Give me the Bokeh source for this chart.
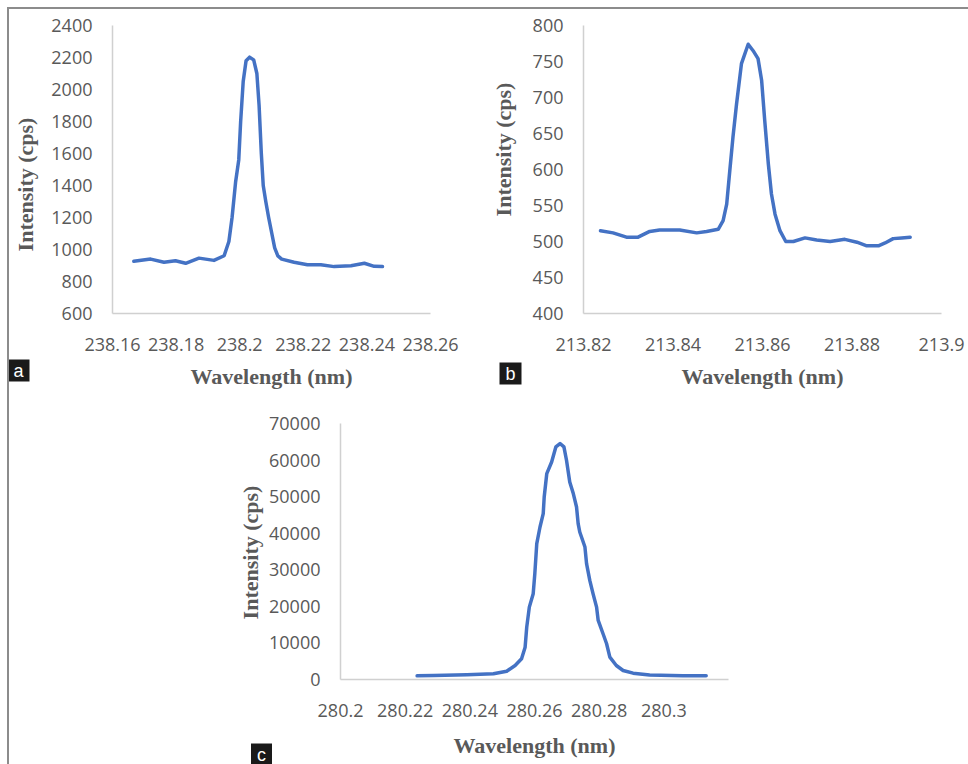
import math
from bokeh.plotting import figure
from bokeh.models import Range1d, FixedTicker, NumeralTickFormatter, Label
from bokeh.layouts import column, row
from bokeh.embed import file_html
from bokeh.resources import INLINE

# ---------------- data ----------------
wl_a = [238.1667, 238.1720, 238.1762, 238.1798, 238.1830, 238.1872, 238.1919, 238.1951,
        238.1966, 238.1976, 238.1987, 238.1997, 238.2003, 238.2011, 238.2020, 238.2031,
        238.2044, 238.2054, 238.2061, 238.2068, 238.2074, 238.2082, 238.2091, 238.2101,
        238.2110, 238.2120, 238.2132, 238.2171, 238.2213, 238.2255, 238.2297, 238.2350,
        238.2392, 238.2423, 238.2449]
int_a = [926, 940, 920, 930, 914, 946, 932, 961,
         1050, 1200, 1420, 1560, 1800, 2050, 2180, 2202,
         2185, 2100, 1900, 1600, 1400, 1300, 1200, 1100,
         1010, 960, 940, 920, 905, 905, 893, 899,
         914, 895, 893]

wl_b = [213.8238, 213.8266, 213.8296, 213.8322, 213.8348, 213.8370, 213.8415, 213.8453,
        213.8475, 213.8501, 213.8512, 213.8520, 213.8527, 213.8534, 213.8542, 213.8553,
        213.8568, 213.8579, 213.8590, 213.8598, 213.8605, 213.8613, 213.8620, 213.8628,
        213.8639, 213.8652, 213.8669, 213.8695, 213.8721, 213.8751, 213.8784, 213.8811,
        213.8833, 213.8859, 213.8874, 213.8892, 213.8911, 213.8930]
int_b = [515, 512, 506, 506, 514, 516, 516, 512,
         514, 517, 529, 552, 599, 645, 691, 747,
         774, 765, 754, 724, 668, 608, 566, 538,
         515, 500, 500, 505, 502, 500, 503, 499,
         494, 494, 498, 504, 505, 506]

wl_c = [280.2237, 280.2288, 280.2391, 280.2473, 280.2514, 280.2540, 280.2560, 280.2571,
        280.2576, 280.2584, 280.2596, 280.2601, 280.2607, 280.2617, 280.2627, 280.2630,
        280.2638, 280.2653, 280.2666, 280.2679, 280.2691, 280.2699, 280.2709, 280.2720,
        280.2730, 280.2735, 280.2740, 280.2756, 280.2761, 280.2771, 280.2781, 280.2792,
        280.2797, 280.2812, 280.2823, 280.2833, 280.2853, 280.2874, 280.2905, 280.2956,
        280.3059, 280.3131]
int_c = [1000, 1100, 1300, 1550, 2272, 3832, 5666, 8842,
         14317, 19792, 23460, 28935, 37148, 41692, 45360, 49904,
         56310, 59485, 63592, 64523, 63592, 59951, 54011, 50835,
         47167, 42623, 40323, 36217, 31673, 27101, 23460, 19792,
         16151, 12510, 9773, 6105, 3832, 2464, 1734, 1200,
         1000, 1000]

xticks_a = [238.16, 238.18, 238.2, 238.22, 238.24, 238.26]
yticks_a = [600, 800, 1000, 1200, 1400, 1600, 1800, 2000, 2200, 2400]
xticks_b = [213.82, 213.84, 213.86, 213.88, 213.9]
yticks_b = [400, 450, 500, 550, 600, 650, 700, 750, 800]
xticks_c = [280.2, 280.22, 280.24, 280.26, 280.28, 280.3]
yticks_c = [0, 10000, 20000, 30000, 40000, 50000, 60000, 70000]

x_title = "Wavelength (nm)"
y_title = "Intensity (cps)"
panel_tags = ["a", "b", "c"]

# ---------------- styles ----------------
LINE = "#4472C4"
GREY_TXT = "#595959"
AXIS = "#d0d0d0"
TICK_FONT = "Open Sans"
TITLE_FONT = "Liberation Serif"


def y_title_label(x, y):
    return Label(x=x, y=y, x_units="screen", y_units="screen", text=y_title,
                 angle=math.pi / 2, text_align="center", text_baseline="middle",
                 text_font=TITLE_FONT, text_font_style="bold", text_font_size="22px",
                 text_color=GREY_TXT)


def tag_label(x, y, tag):
    return Label(x=x, y=y, x_units="screen", y_units="screen", text=tag,
                 text_align="center", text_baseline="middle",
                 text_font="Liberation Sans", text_font_size="18px",
                 text_color="white", background_fill_color="#1a1a1a", padding=(6, 1))


def make_panel(w, h, left, right, top, bottom, xr, yr, xticks, yticks, xs, ys,
               xlab_standoff):
    p = figure(width=w, height=h, x_range=Range1d(*xr), y_range=Range1d(*yr),
               output_backend="svg", toolbar_location=None,
               min_border_left=left, min_border_right=right,
               min_border_top=top, min_border_bottom=bottom)
    p.outline_line_color = None
    p.grid.visible = False
    p.background_fill_color = "white"
    p.border_fill_color = "white"
    for ax in (p.xaxis[0], p.yaxis[0]):
        ax.axis_line_color = AXIS
        ax.axis_line_width = 1.5
        ax.major_tick_line_color = None
        ax.minor_tick_line_color = None
        ax.major_tick_out = 0
        ax.major_tick_in = 0
        ax.major_label_text_font = TICK_FONT
        ax.major_label_text_font_size = "18px"
        ax.major_label_text_color = GREY_TXT
        ax.axis_label_text_font = TITLE_FONT
        ax.axis_label_text_font_style = "bold"
        ax.axis_label_text_font_size = "22px"
        ax.axis_label_text_color = GREY_TXT
    p.xaxis.ticker = FixedTicker(ticks=xticks)
    p.yaxis.ticker = FixedTicker(ticks=yticks)
    p.xaxis.formatter = NumeralTickFormatter(format="0.[00]")
    p.yaxis.formatter = NumeralTickFormatter(format="0")
    p.xaxis.major_label_standoff = 24
    p.yaxis.major_label_standoff = 20
    p.xaxis.axis_label = x_title
    p.xaxis.axis_label_standoff = xlab_standoff

    p.line(xs, ys, line_color=LINE, line_width=3.5, line_join="round", line_cap="round")
    return p


pa = make_panel(480, 383, 103, 59, 16, 76, (238.16, 238.26), (600, 2400),
                xticks_a, yticks_a, wl_a, int_a, 10)
pa.add_layout(y_title_label(-405, 129), "right")
pa.add_layout(tag_label(-437, -57, panel_tags[0]), "right")

pb = make_panel(479, 383, 94, 27, 16, 79, (213.82, 213.9), (400, 800),
                xticks_b, yticks_b, wl_b, int_b, 10)
pb.add_layout(tag_label(-431, -60, panel_tags[1]), "right")
pb.add_layout(y_title_label(-1, 164), "left")

pc = make_panel(959, 372, 331, 240, 31, 85, (280.2, 280.32), (0, 70000),
                xticks_c, yticks_c, wl_c, int_c, 13)
pc.add_layout(y_title_label(-478, 127), "right")
pc.add_layout(tag_label(-492, -75, panel_tags[2]), "right")

layout = column(row(pa, pb), pc,
                styles={"border-top": "2px solid #8c8c8c", "border-left": "2px solid #8c8c8c",
                        "margin-top": "7px", "margin-left": "7px"})

open("out.html", "w").write(file_html(layout, INLINE))
